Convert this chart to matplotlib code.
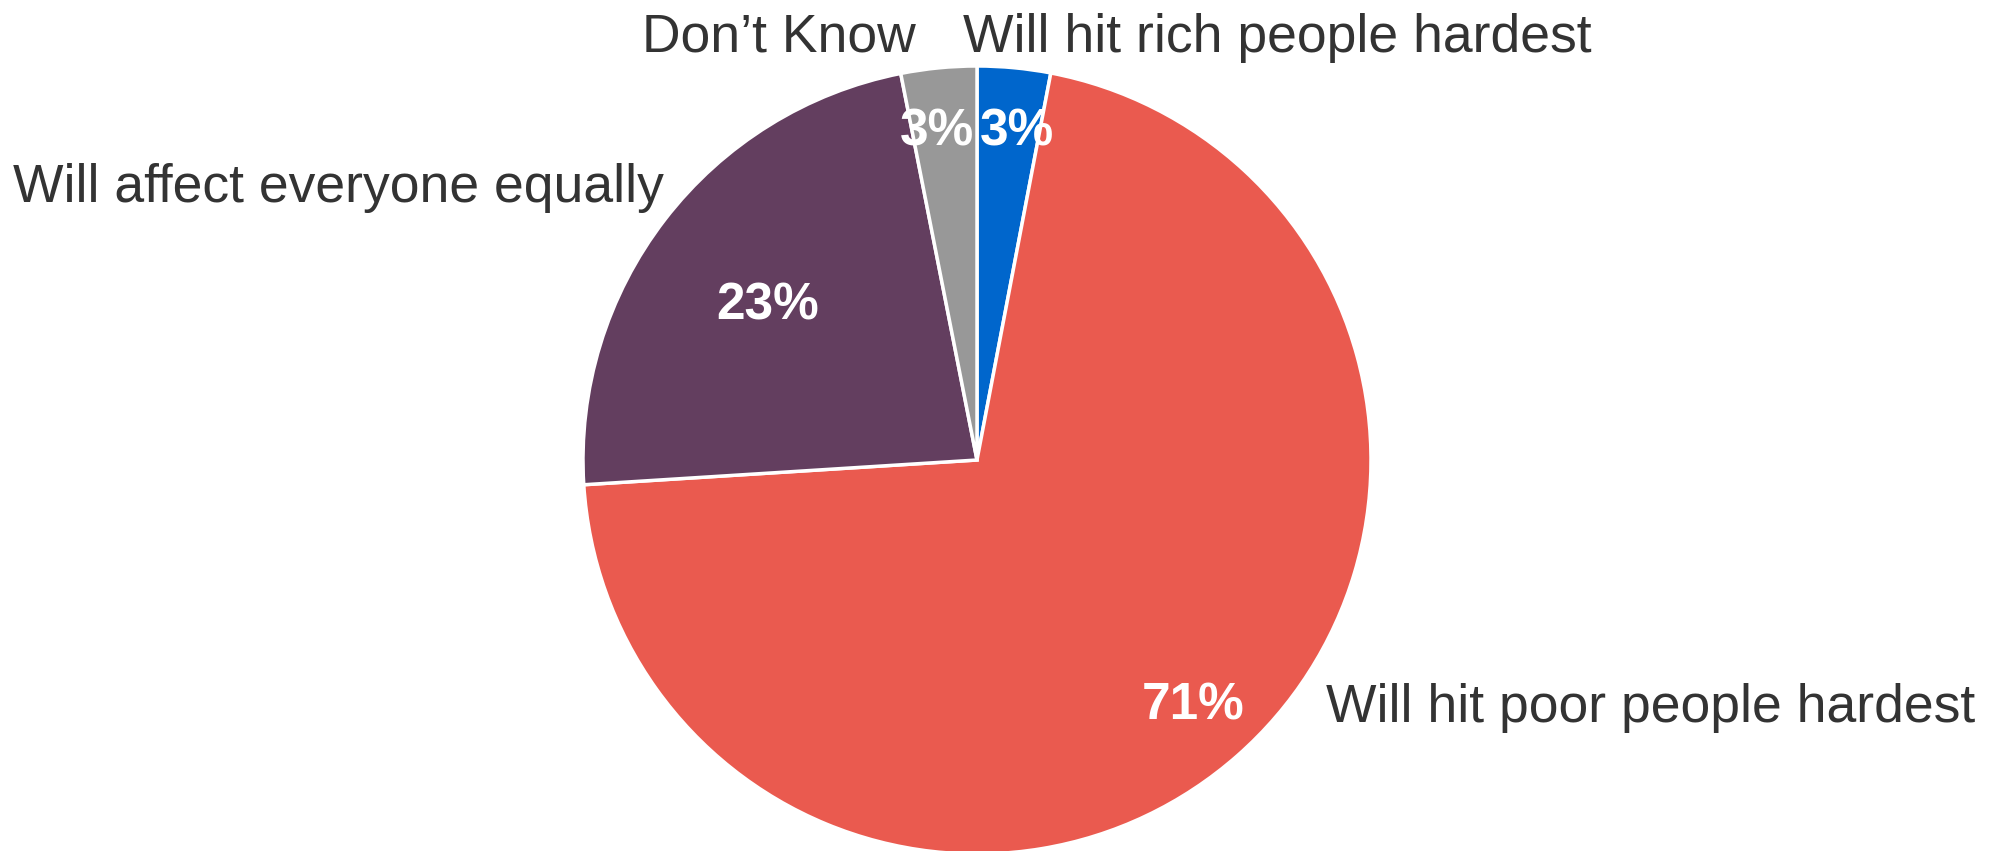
import matplotlib
matplotlib.use("Agg")
import matplotlib.pyplot as plt

categories = ["Will hit rich people hardest", "Will hit poor people hardest",
              "Will affect everyone equally", "Don\u2019t Know"]
values = [3.0, 71.0, 22.9, 3.1]
pct_labels = ["3%", "71%", "23%", "3%"]
colors = ["#0066cc", "#ea5a4f", "#633e5f", "#989898"]

W, H = 1993, 851
fig = plt.figure(figsize=(W / 100, H / 100), dpi=100)
ax = fig.add_axes([0, 0, 1, 1])
ax.set_xlim(0, W)
ax.set_ylim(0, H)
ax.set_aspect("equal")
ax.axis("off")

cx, cy, r = 977, H - 460, 394
ax.pie(values, colors=colors, startangle=90, counterclock=False,
       center=(cx, cy), radius=r,
       wedgeprops=dict(edgecolor="white", linewidth=2.5))
ax.set_xlim(0, W)
ax.set_ylim(0, H)

font = "Liberation Sans"
tc = "#333333"
fs = 38.5
# outside labels (x, baseline y in pixel coords from top, ha)
outside = [(963, 52, "left"), (1326, 722, "left"), (13, 202, "left"), (916, 52, "right")]
for lab, (x, y, ha) in zip(categories, outside):
    ax.text(x, H - y, lab, ha=ha, va="baseline", fontsize=fs, family=font, color=tc)

inside = [(1017, 146), (1193, 720), (768, 320), (937, 146)]
for lab, (x, y) in zip(pct_labels, inside):
    ax.text(x, H - y, lab, ha="center", va="baseline", fontsize=37, family=font,
            fontweight="bold", color="white")

fig.savefig("out.png", dpi=100)
